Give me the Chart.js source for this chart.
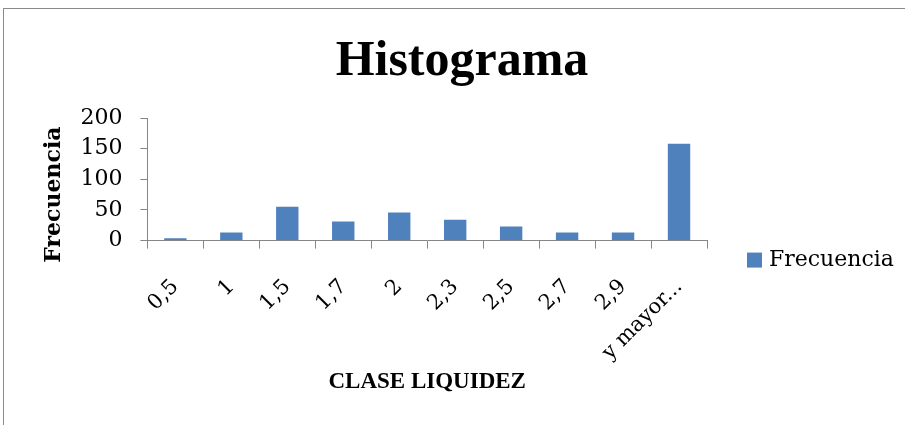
<!DOCTYPE html>
<html>
<head>
<meta charset="utf-8">
<script src="https://cdn.jsdelivr.net/npm/chart.js@4.4.1/dist/chart.umd.min.js"></script>
<style>
  html, body { margin: 0; padding: 0; background: #fff; }
  #frame { position: absolute; left: 3px; top: 8px; width: 1000px; height: 500px; border: 1px solid #8a8a8a; }
  #wrap { position: absolute; left: 0; top: 0; width: 905px; height: 425px; }
</style>
</head>
<body>
<div id="frame"></div>
<div id="wrap"><canvas id="chart" width="905" height="425"></canvas></div>
<script>
const categories = ['0,5', '1', '1,5', '1,7', '2', '2,3', '2,5', '2,7', '2,9', 'y mayor...'];
const frecuencia = [4, 13, 55, 31, 46, 34, 23, 13, 13, 158];
const yTicks = [0, 50, 100, 150, 200];

const SERIF = '"Liberation Serif", serif';
const WIDE = '"DejaVu Serif", serif';
const BAR = '#4F81BD';
const AXIS = '#868686';

// legend drawn to the right of the plot, like the Excel one
const sideLegend = {
  id: 'sideLegend',
  afterDraw(chart){
    const ctx = chart.ctx, a = chart.chartArea;
    const ds = chart.data.datasets[0];
    const x = a.right + 40, y = a.bottom + 19;
    ctx.save();
    ctx.fillStyle = ds.backgroundColor;
    ctx.fillRect(x, y - 7, 15, 15);
    ctx.fillStyle = '#000';
    ctx.font = '22px ' + WIDE;
    ctx.textBaseline = 'middle';
    ctx.fillText(ds.label, x + 22, y + 1);
    ctx.restore();
  }
};

new Chart(document.getElementById('chart').getContext('2d'), {
  type: 'bar',
  data: {
    labels: categories,
    datasets: [{
      label: 'Frecuencia',
      data: frecuencia,
      backgroundColor: BAR,
      borderWidth: 0,
      barPercentage: 0.4,
      categoryPercentage: 1
    }]
  },
  options: {
    responsive: false,
    animation: false,
    layout: { autoPadding: false, padding: { left: 24, right: 5, top: 8, bottom: 29 } },
    plugins: {
      legend: { display: false },
      tooltip: { enabled: false },
      title: {
        display: true,
        text: 'Histograma',
        color: '#000',
        font: { family: SERIF, size: 50, weight: 'bold' },
        padding: { top: 24, bottom: 26 }
      }
    },
    scales: {
      x: {
        grid: { display: true, drawOnChartArea: false, drawTicks: true, tickLength: 8, color: AXIS, offset: true },
        border: { display: true, color: AXIS, width: 1 },
        ticks: { color: '#000', font: { family: WIDE, size: 21 }, maxRotation: 45, minRotation: 45, padding: 26 },
        title: {
          display: true,
          text: 'CLASE LIQUIDEZ',
          color: '#000',
          font: { family: SERIF, size: 23, weight: 'bold' },
          padding: { top: 0, bottom: 0 }
        },
        // rotated labels are measured a bit tall; pull the title up
        afterFit(axis){ axis.height -= 23; }
      },
      y: {
        min: 0,
        max: 200,
        afterBuildTicks(axis){ axis.ticks = yTicks.map(v => ({ value: v })); },
        grid: { display: true, drawOnChartArea: false, drawTicks: true, tickLength: 7, color: AXIS },
        border: { display: true, color: AXIS, width: 1 },
        ticks: { color: '#000', font: { family: WIDE, size: 22 }, padding: 18, autoSkip: false },
        title: {
          display: true,
          // trailing spaces push the word a little lower, as in the original
          text: 'Frecuencia    ',
          color: '#000',
          font: { family: WIDE, size: 22, weight: 'bold' },
          padding: { top: 17, bottom: 12 }
        },
        afterFit(axis){ axis.width -= 17; }
      },
      // empty axis that only keeps room on the right for the legend
      y2: {
        position: 'right',
        display: true,
        grid: { display: false },
        border: { display: false },
        ticks: { display: false },
        afterFit(axis){ axis.width = 193; }
      }
    }
  },
  plugins: [sideLegend]
});
</script>
</body>
</html>
